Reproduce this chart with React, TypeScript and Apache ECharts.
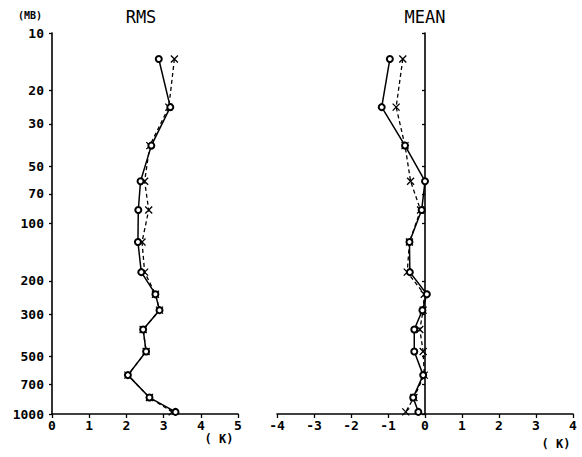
import React, { useEffect, useRef } from "react";
import * as echarts from "echarts";

// Pressure levels (mb) of the plotted points
const pressure = [13.7, 24.5, 39, 60, 85, 125, 180, 235, 285, 360, 470, 625, 820, 975];
// RMS panel (K)
const rmsSolid = [2.87, 3.18, 2.67, 2.38, 2.32, 2.31, 2.40, 2.78, 2.89, 2.45, 2.53, 2.04, 2.62, 3.32];
const rmsDashed = [3.29, 3.14, 2.63, 2.49, 2.60, 2.42, 2.49, 2.78, 2.89, 2.45, 2.53, 2.04, 2.62, 3.23];
// MEAN panel (K)
const meanSolid = [-0.95, -1.17, -0.54, 0.0, -0.09, -0.42, -0.41, 0.05, -0.07, -0.29, -0.29, -0.05, -0.32, -0.18];
const meanDashed = [-0.6, -0.78, -0.54, -0.39, -0.12, -0.42, -0.48, -0.02, -0.05, -0.14, -0.05, -0.02, -0.3, -0.52];
// Tick labels
const pressureTicks = [10, 20, 30, 50, 70, 100, 200, 300, 500, 700, 1000];

const FONT = "'DejaVu Sans Mono', monospace";
const X_SYMBOL = "path://M0 0L10 10M10 0L0 10";

export default function App() {
  const ref = useRef<HTMLDivElement>(null);
  useEffect(() => {
    if (!ref.current) return;
    const chart = echarts.init(ref.current, null, { renderer: "svg" });
    const pairs = (xs: number[]) => xs.map((v, i) => [v, pressure[i]]);
    const axisLabelStyle = { color: "#000", fontFamily: FONT, fontWeight: "bold" as const, fontSize: 13 };
    const yBase = {
      type: "log" as const,
      logBase: 10,
      min: 10,
      max: 1000,
      inverse: true,
      splitLine: { show: false },
      axisLine: { show: true, lineStyle: { color: "#000", width: 1.6 } },
    };
    const xBase = {
      type: "value" as const,
      interval: 1,
      splitLine: { show: false },
      axisLine: { show: true, onZero: false, lineStyle: { color: "#000", width: 1.6 } },
      axisTick: { show: true, inside: false, length: 4, lineStyle: { color: "#000", width: 1.3 } },
      axisLabel: { ...axisLabelStyle, margin: 5, formatter: (v: number) => String(v) },
    };
    const solidLine = { color: "#000", width: 1.5, type: "solid" as const };
    const dashedLine = { color: "#000", width: 1.3, type: [4, 3] as any };
    chart.setOption({
      animation: false,
      backgroundColor: "#fff",
      grid: [
        { left: 52, top: 33, width: 186, height: 381 },
        { left: 277, top: 33, width: 296, height: 381 },
      ],
      xAxis: [
        { ...xBase, gridIndex: 0, min: 0, max: 5 },
        { ...xBase, gridIndex: 1, min: -4, max: 4 },
      ],
      yAxis: [
        {
          ...yBase,
          gridIndex: 0,
          axisTick: { show: true, length: 3, customValues: pressureTicks, lineStyle: { color: "#000", width: 1.3 } },
          axisLabel: { ...axisLabelStyle, margin: 8, customValues: pressureTicks, formatter: (v: number) => String(v) },
        },
        {
          ...yBase,
          gridIndex: 1,
          axisLine: { show: true, onZero: true, lineStyle: { color: "#000", width: 1.6 } },
          axisTick: { show: true, length: 3, customValues: pressureTicks, lineStyle: { color: "#000", width: 1.3 } },
          axisLabel: { show: false },
        },
      ],
      graphic: [
        { type: "text", x: 30, y: 15, style: { text: "(MB)", font: `bold 10px ${FONT}`, fill: "#000", textAlign: "center", textVerticalAlign: "middle" } },
        { type: "text", x: 141, y: 17, style: { text: "RMS", font: `17px ${FONT}`, fill: "#000", textAlign: "center", textVerticalAlign: "middle" } },
        { type: "text", x: 425, y: 17, style: { text: "MEAN", font: `17px ${FONT}`, fill: "#000", textAlign: "center", textVerticalAlign: "middle" } },
        { type: "text", x: 219, y: 439, style: { text: "( K)", font: `bold 12px ${FONT}`, fill: "#000", textAlign: "center", textVerticalAlign: "middle" } },
        { type: "text", x: 556, y: 444, style: { text: "( K)", font: `bold 12px ${FONT}`, fill: "#000", textAlign: "center", textVerticalAlign: "middle" } },
      ],
      series: [
        {
          type: "line", xAxisIndex: 0, yAxisIndex: 0, data: pairs(rmsDashed),
          lineStyle: dashedLine, symbol: X_SYMBOL, symbolSize: 7,
          itemStyle: { color: "#000", borderColor: "#000", borderWidth: 1.3 }, z: 3,
        },
        {
          type: "line", xAxisIndex: 0, yAxisIndex: 0, data: pairs(rmsSolid),
          lineStyle: solidLine, symbol: "emptyCircle", symbolSize: 6,
          itemStyle: { color: "#000", borderWidth: 1.6 }, z: 4,
        },
        {
          type: "line", xAxisIndex: 1, yAxisIndex: 1, data: pairs(meanDashed),
          lineStyle: dashedLine, symbol: X_SYMBOL, symbolSize: 7,
          itemStyle: { color: "#000", borderColor: "#000", borderWidth: 1.3 }, z: 3,
        },
        {
          type: "line", xAxisIndex: 1, yAxisIndex: 1, data: pairs(meanSolid),
          lineStyle: solidLine, symbol: "emptyCircle", symbolSize: 6,
          itemStyle: { color: "#000", borderWidth: 1.6 }, z: 4,
        },
      ],
    });
    return () => chart.dispose();
  }, []);
  return <div ref={ref} style={{ position: "fixed", left: 0, top: 0, width: 582, height: 457 }} />;
}
